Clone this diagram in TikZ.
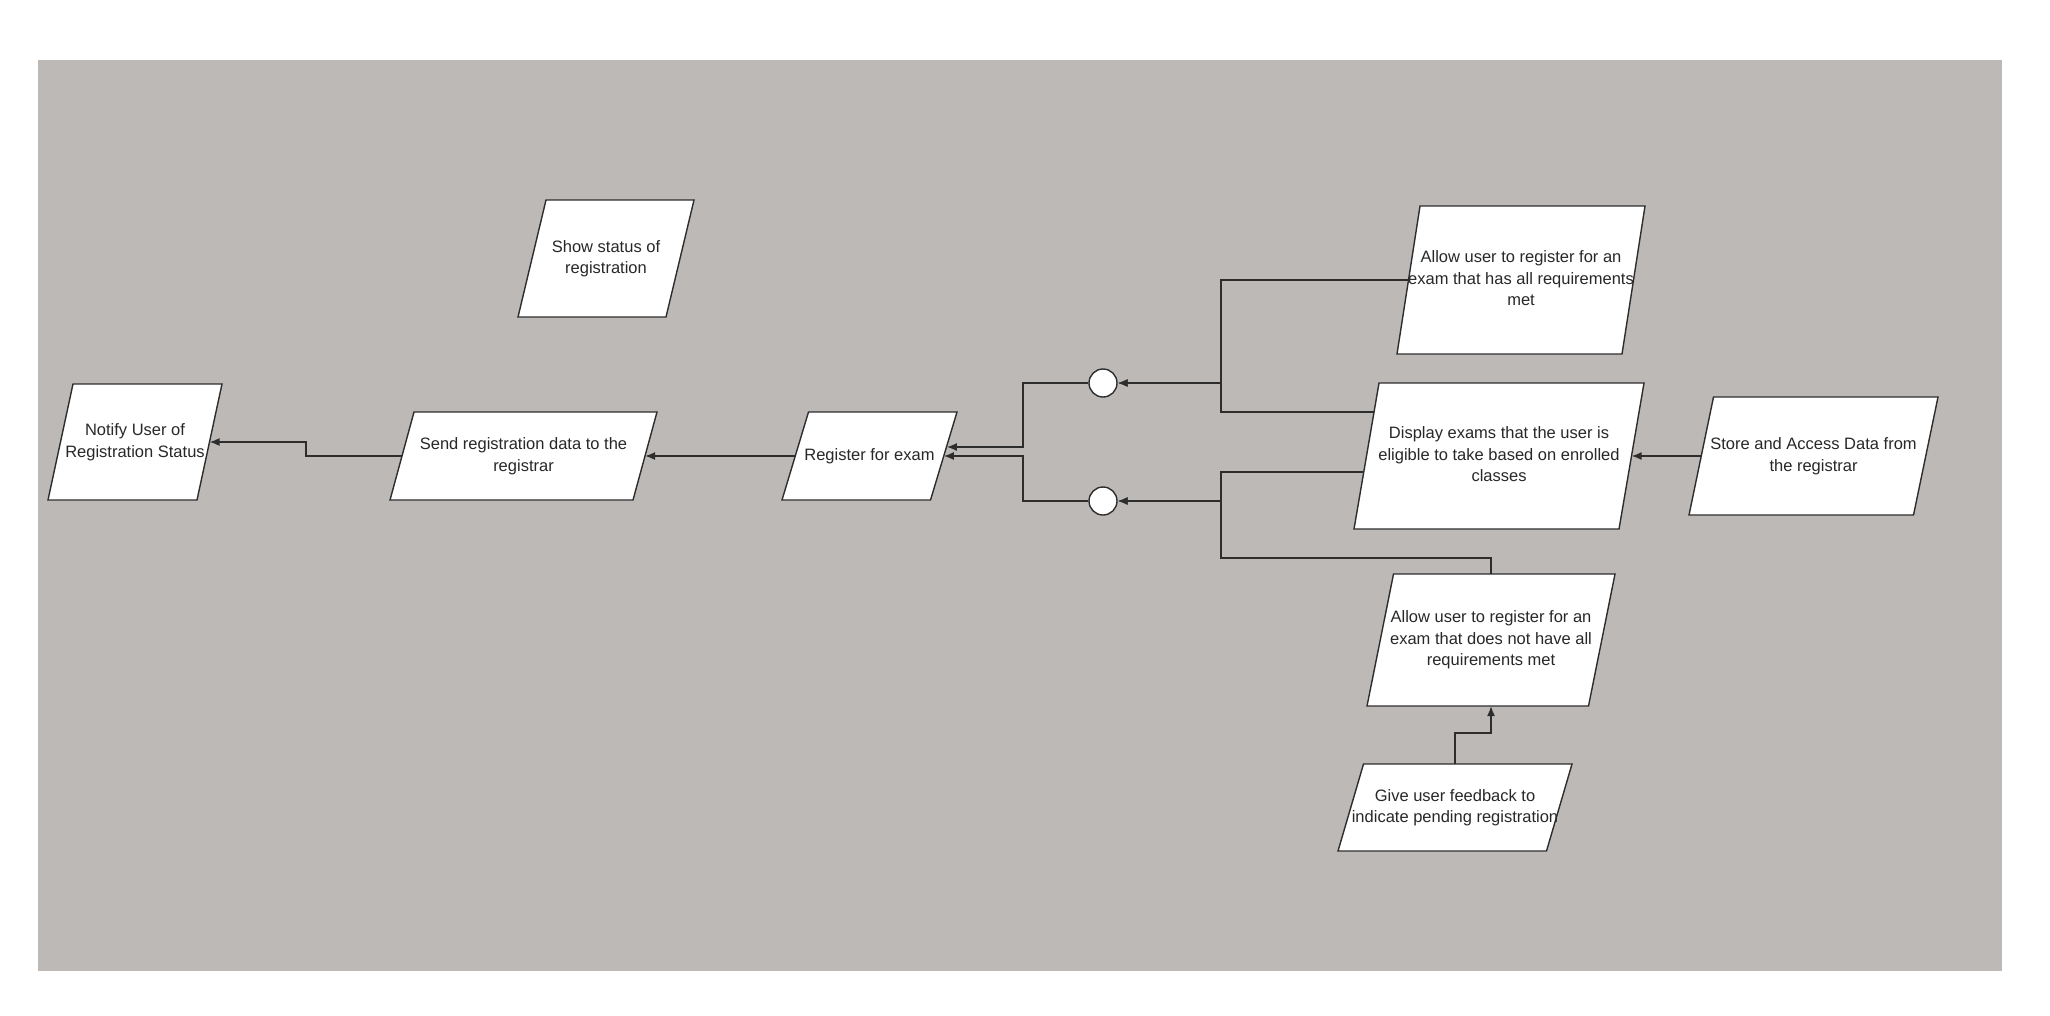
\documentclass[tikz,border=0pt]{standalone}
\usepackage{fontspec}
\setmainfont{Liberation Sans}
\usetikzlibrary{arrows.meta,calc,backgrounds}

\definecolor{canvasGrey}{RGB}{189,185,183}
\definecolor{lineGrey}{RGB}{45,45,45}
\definecolor{textGrey}{RGB}{40,40,40}

\tikzset{every picture/.style={line width=0.75pt}}
\tikzset{
io/.style={rectangle, inner sep=0pt, outer sep=0pt, text=textGrey, font=\fontsize{16.5}{21.5}\selectfont},
iobox/.style={draw=lineGrey, fill=white, line width=1.4pt, line join=miter},
junction/.style={circle, draw=lineGrey, fill=white, line width=1.4pt, minimum size=28pt, inner sep=0pt},
flow/.style={draw=lineGrey, line width=1.7pt, -{Latex[length=10pt,width=8pt]}}}

\newcommand{\iotext}[1]{\makebox[0pt]{\begin{tabular}{@{}c@{}}#1\end{tabular}}}

\begin{document}
\begin{tikzpicture}[x=1pt,y=1pt,yscale=-1,xscale=1]
\useasboundingbox (0,0) rectangle (2050,1015);

% Text Node
\node[io, minimum width=149pt, minimum height=116pt] (notify) at (135,442) {\iotext{Notify User of\\Registration Status}};
% Text Node
\node[io, minimum width=243pt, minimum height=88pt] (send) at (523.5,456) {\iotext{Send registration data to the\\registrar}};
% Text Node
\node[io, minimum width=148pt, minimum height=117pt] (show) at (606,258.5) {\iotext{Show status of\\registration}};
% Text Node
\node[io, minimum width=148.5pt, minimum height=88pt] (reg) at (869.5,456) {\iotext{Register for exam}};
% Text Node
\node[io, minimum width=225pt, minimum height=148pt] (allowA) at (1521,280) {\iotext{Allow user to register for an\\exam that has all requirements\\met}};
% Text Node
\node[io, minimum width=265pt, minimum height=146pt] (display) at (1499,456) {\iotext{Display exams that the user is\\eligible to take based on enrolled\\classes}};
% Text Node
\node[io, minimum width=224.5pt, minimum height=118pt] (store) at (1813.5,456) {\iotext{Store and Access Data from\\the registrar}};
% Text Node
\node[io, minimum width=221.5pt, minimum height=132pt] (allowB) at (1491,640) {\iotext{Allow user to register for an\\exam that does not have all\\requirements met}};
% Text Node
\node[io, minimum width=208.5pt, minimum height=87pt] (give) at (1455,807.5) {\iotext{Give user feedback to\\indicate pending registration}};

%Shape: Circle
\node[junction] (c1) at (1103,383) {};
%Shape: Circle
\node[junction] (c2) at (1103,501) {};

\begin{pgfonlayer}{background}
\fill[white] (0,0) rectangle (2050,1015);
%Shape: Rectangle
\fill[canvasGrey] (38,60) rectangle (2002,971);
%Shape: Parallelogram
\foreach \n/\s in {notify/25, send/24, show/28, reg/26.5, allowA/23, display/25, store/24.5, allowB/26.5, give/25.5}
  \draw[iobox] ($(\n.north west)+(\s/2,0)$) -- ($(\n.north east)+(\s/2,0)$) -- ($(\n.south east)-(\s/2,0)$) -- ($(\n.south west)-(\s/2,0)$) -- cycle;
\end{pgfonlayer}

\coordinate (j1) at (1221,383);
\coordinate (j2) at (1221,501);
\coordinate (regin) at ($(reg.east)+(3,-9)$);

%Connectors
\draw[flow] (send.west) -- ++(-96,0) |- (notify.east);
\draw[flow] (reg.west) -- (send.east);
\draw[flow] (c1.west) -- ++(-65,0) |- (regin);
\draw[flow] (c2.west) -- ++(-65,0) |- (reg.east);
\draw[flow] (allowA.west) -| (j1) -- (c1.east);
\draw[flow] ($(display.west)+(7.5,-44)$) -| (j1) -- (c1.east);
\draw[flow] ($(display.west)+(-3,16)$) -| (j2) -- (c2.east);
\draw[flow] (allowB.north) -- ++(0,-16) -| (j2) -- (c2.east);
\draw[flow] (give.north) -- ++(0,-31) -| (allowB.south);
\draw[flow] (store.west) -- (display.east);

\end{tikzpicture}
\end{document}
